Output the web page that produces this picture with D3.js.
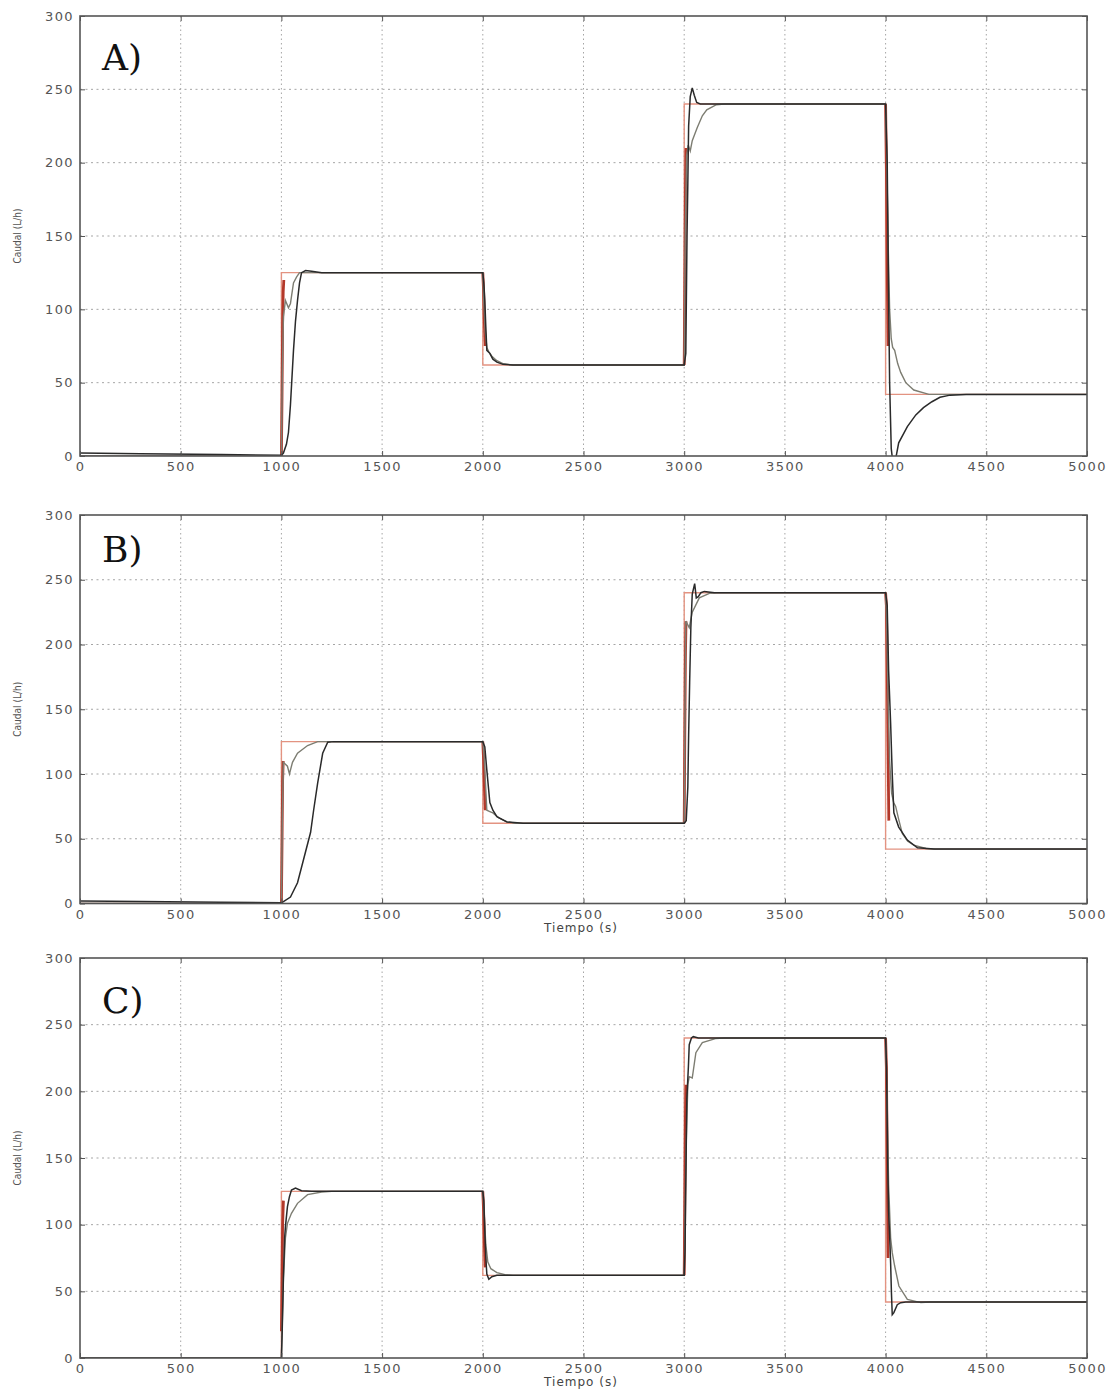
<!DOCTYPE html>
<html><head><meta charset="utf-8">
<script src="https://cdn.jsdelivr.net/npm/d3@7"></script>
<style>body{margin:0;background:#fff}svg{display:block}</style>
</head><body><svg id="c" width="1110" height="1391"></svg>
<script>
const xTicks = [0,500,1000,1500,2000,2500,3000,3500,4000,4500,5000];
const yTicks = [0,50,100,150,200,250,300];
const panelLabels = ["A)","B)","C)"];
const yLabel = "Caudal (L/h)";
const xLabel = "Tiempo (s)";

const setpoint = [[0,0],[1000,125],[2000,62],[3000,240],[4000,42],[5000,42]];

const aBlack = [[0,2],[300,1.5],[700,1],[1000,0.5],[1010,2],[1025,8],[1035,16],[1045,35],[1060,72],[1070,92],[1080,106],[1090,118],[1100,125],[1120,126.5],[1150,126],[1200,125],[2000,125],[2005,118],[2010,106],[2015,88],[2020,72],[2035,70],[2050,66],[2070,64],[2100,62.5],[2150,62],[3000,62],[3008,70],[3014,150],[3018,186],[3022,225],[3030,245],[3040,251],[3050,246],[3062,241],[3080,240],[4000,240],[4008,200],[4014,120],[4020,50],[4028,5],[4035,-3],[4050,-2],[4065,9],[4108,20],[4150,28],[4188,33],[4230,37],[4270,40],[4320,41.5],[4400,42],[5000,42]];
const aGrey = [[0,0],[1000,0],[1005,60],[1010,95],[1020,106],[1035,101],[1045,104],[1060,118],[1075,122],[1090,125],[2000,125],[2005,105],[2012,85],[2020,74],[2030,71],[2045,68],[2070,65],[2100,63],[2150,62],[3000,62],[3005,150],[3012,205],[3020,212],[3030,208],[3040,215],[3065,224],[3090,232],[3112,236],[3160,239.5],[3200,240],[4000,240],[4006,200],[4012,150],[4020,100],[4028,80],[4035,74],[4045,72],[4060,63],[4075,57],[4100,50],[4140,45],[4215,42],[5000,42]];
const aRed = [[[1000,0],[1003,40],[1006,90],[1009,112],[1012,120]],[[2000,125],[2004,112],[2008,90],[2012,75]],[[3000,62],[3003,120],[3006,180],[3009,210]],[[4000,240],[4004,195],[4008,130],[4012,75]]];

const bBlack = [[0,2],[300,1.5],[700,1],[1000,0.5],[1010,1.4],[1045,5],[1080,16],[1110,34],[1145,55],[1160,72],[1180,93],[1205,116],[1230,124.5],[1260,125],[2000,125],[2010,121],[2020,103],[2035,78],[2050,72],[2070,67],[2120,63],[2200,62],[3000,62],[3010,64],[3018,90],[3022,130],[3027,170],[3033,213],[3040,239],[3052,247],[3060,236],[3070,237],[3083,240],[3100,241],[3150,240],[4000,240],[4008,230],[4015,180],[4025,139],[4033,100],[4041,70],[4065,59],[4108,49],[4158,43],[4240,42],[5000,42]];
const bGrey = [[0,0],[1000,0],[1005,70],[1010,109],[1030,106],[1040,100],[1055,109],[1080,116],[1130,122],[1180,125],[2000,125],[2008,110],[2020,72],[2035,71],[2050,70],[2080,66],[2120,63],[2160,62],[3000,62],[3004,150],[3008,218],[3025,213],[3040,225],[3075,236],[3125,239.5],[3160,240],[4000,240],[4006,215],[4012,160],[4020,110],[4030,85],[4040,78],[4050,75],[4065,65],[4083,54],[4110,48],[4140,45],[4200,42.5],[4250,42],[5000,42]];
const bRed = [[[1000,0],[1003,45],[1006,95],[1009,110]],[[2000,125],[2004,110],[2008,90],[2012,72]],[[3000,62],[3003,130],[3006,190],[3009,218]],[[4000,240],[4004,230],[4008,183],[4012,120],[4016,64]]];

const cBlack = [[0,0],[1000,0],[1004,20],[1010,60],[1016,90],[1020,98.5],[1030,113.5],[1040,121],[1050,126],[1070,127.5],[1100,125.5],[1150,125],[2000,125],[2005,118],[2010,95],[2015,75],[2020,63],[2030,59],[2045,61],[2070,62],[3000,62],[3004,80],[3008,131],[3013,194],[3021,219],[3025,235],[3036,240],[3045,241],[3070,240],[4000,240],[4005,217.5],[4010,150],[4015,110],[4022,84],[4025,71],[4029,49],[4033,32.5],[4041,34],[4058,40],[4075,41.5],[4100,42],[5000,42]];
const cGrey = [[0,0],[1000,0],[1010,60],[1020,90],[1030,101],[1050,108.5],[1080,116],[1130,122.5],[1200,124.5],[1250,125],[2000,125],[2008,105],[2015,85],[2025,72],[2040,67],[2070,64],[2110,62.5],[2150,62],[3000,62],[3008,150],[3018,205],[3025,211],[3040,210],[3058,229],[3090,236.5],[3155,239.5],[3200,240],[4000,240],[4008,190],[4015,130],[4025,90],[4033,79],[4045,69],[4066,54],[4108,44],[4175,41.5],[4220,42],[5000,42]];
const cRed = [[[1000,20],[1003,60],[1006,100],[1010,118]],[[2000,125],[2004,110],[2008,85],[2012,68]],[[3000,62],[3003,120],[3006,180],[3009,205]],[[4000,240],[4004,218],[4008,150],[4012,75]]];

const seriesBlack = [aBlack,bBlack,cBlack];
const seriesGrey = [aGrey,bGrey,cGrey];
const seriesRed = [aRed,bRed,cRed];

// layout
const L = 80, R = 1087;
const panelBox = [{top:16,bottom:456,labelY:70,xlab:false},{top:515,bottom:903.5,labelY:562,xlab:true},{top:958,bottom:1358,labelY:1013,xlab:true}];

const svg = d3.select("#c");
const x = d3.scaleLinear().domain([0,5000]).range([0, R-L]);

panelBox.forEach((pb,i)=>{
  const h = pb.bottom - pb.top, w = R-L;
  const y = d3.scaleLinear().domain([0,300]).range([h,0]);
  const g = svg.append("g").attr("transform",`translate(${L},${pb.top})`);
  g.append("clipPath").attr("id","clip"+i).append("rect").attr("width",w).attr("height",h);

  // grid
  g.append("g").selectAll("line").data(xTicks.slice(1,-1)).join("line")
    .attr("x1",d=>x(d)).attr("x2",d=>x(d)).attr("y1",0).attr("y2",h)
    .attr("stroke","#a5a5a5").attr("stroke-width",1).attr("stroke-dasharray","1.5,3");
  g.append("g").selectAll("line").data(yTicks.slice(1,-1)).join("line")
    .attr("y1",d=>y(d)).attr("y2",d=>y(d)).attr("x1",0).attr("x2",w)
    .attr("stroke","#a5a5a5").attr("stroke-width",1).attr("stroke-dasharray","2,3.5");

  const line = d3.line().x(d=>x(d[0])).y(d=>y(d[1]));
  const lines = g.append("g").attr("clip-path",`url(#clip${i})`);
  lines.append("path").datum(setpoint).attr("d",d3.line().curve(d3.curveStepAfter).x(d=>x(d[0])).y(d=>y(d[1])))
    .attr("fill","none").attr("stroke","#e39381").attr("stroke-width",1.4);
  lines.selectAll(".red").data(seriesRed[i]).join("path").attr("class","red").attr("d",line)
    .attr("fill","none").attr("stroke","#b3382a").attr("stroke-width",2.8);
  lines.append("path").datum(seriesGrey[i]).attr("d",line)
    .attr("fill","none").attr("stroke","#7d7d72").attr("stroke-width",1.4);
  lines.append("path").datum(seriesBlack[i]).attr("d",line)
    .attr("fill","none").attr("stroke","#2a2a2a").attr("stroke-width",1.5);

  // axes
  const tickFont = g=>{g.selectAll("text").attr("font-family","DejaVu Sans").attr("font-size",13).attr("fill","#555").attr("letter-spacing","1.4px");
    g.selectAll("line").attr("stroke","#555"); g.select(".domain").remove();};
  g.append("g").call(d3.axisLeft(y).tickValues(yTicks).tickSizeInner(-5).tickSizeOuter(0).tickPadding(6)).call(tickFont);
  g.append("g").attr("transform",`translate(0,${h})`).call(d3.axisBottom(x).tickValues(xTicks).tickSizeInner(-5).tickSizeOuter(0).tickPadding(6).tickFormat(d3.format("d"))).call(tickFont);
  g.append("g").attr("transform",`translate(${w},0)`).call(d3.axisRight(y).tickValues(yTicks).tickSizeInner(-5).tickSizeOuter(0).tickFormat("")).call(tickFont);
  g.append("g").call(d3.axisTop(x).tickValues(xTicks).tickSizeInner(-5).tickSizeOuter(0).tickFormat("")).call(tickFont);

  g.append("rect").attr("width",w).attr("height",h).attr("fill","none").attr("stroke","#555").attr("stroke-width",1.6);

  svg.append("text").attr("x",102).attr("y",pb.labelY).text(panelLabels[i])
    .attr("font-family","DejaVu Serif").attr("font-size",36).attr("fill","#111");

  svg.append("text").attr("transform",`translate(21,${(pb.top+pb.bottom)/2}) rotate(-90)`).attr("text-anchor","middle")
    .text(yLabel).attr("font-family","DejaVu Sans Condensed, DejaVu Sans").attr("font-size",10).attr("fill","#555");

  if(pb.xlab){
    svg.append("text").attr("x",581).attr("y",pb.bottom+28).attr("text-anchor","middle").text(xLabel)
      .attr("font-family","DejaVu Sans").attr("font-size",12).attr("letter-spacing","1px").attr("fill","#444");
  }
});
</script></body></html>
